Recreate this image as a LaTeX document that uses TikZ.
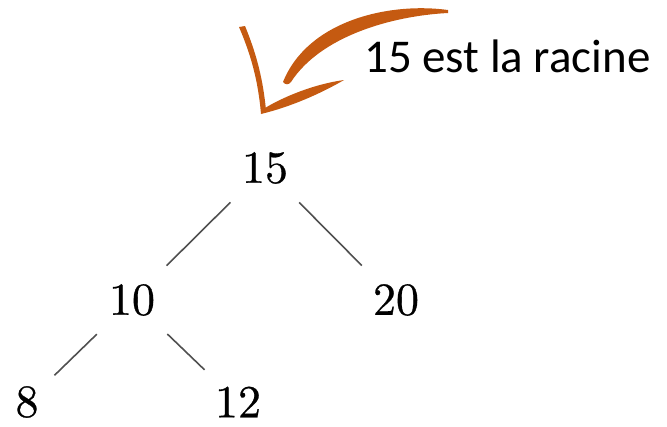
\documentclass[tikz,border=0pt]{standalone}
\usepackage{fontspec}
\newfontfamily\calib{Carlito}
\newfontfamily\keyfont{lmroman10-regular}[Extension=.otf,FakeBold=0.6]
\definecolor{arrowc}{HTML}{C55A11}
\definecolor{edgec}{HTML}{505050}
\begin{document}
\begin{tikzpicture}[x=1pt,y=-1pt,
  key/.style={inner sep=0pt,font=\keyfont\fontsize{46}{50}\selectfont},
  tedge/.style={draw=edgec,line width=1.6pt,shorten <=26pt,shorten >=26pt}]
\useasboundingbox (0,0) rectangle (667,426);
\node[key] (n15) at (265,168) {15};
\node[key] (n10) at (132,300) {10};
\node[key] (n20) at (396,300) {20};
\node[key] (n8) at (27,402) {8};
\node[key] (n12) at (238,402) {12};
\draw[tedge] (n15) -- (n10);
\draw[tedge] (n15) -- (n20);
\draw[tedge,shorten >=22pt] (n10) -- (n8);
\draw[tedge,shorten >=24pt] (n10) -- (n12);
\node[anchor=base west,inner sep=0pt,font=\calib\fontsize{47}{50}\selectfont] (lbl) at (364,72) {15 est la racine};
% curved arrow (brush strokes)
\fill[arrowc] (448,10) .. controls (390,2) and (308,20) .. (283,82)
  .. controls (285,85) and (289,85) .. (291,82)
  .. controls (320,37) and (390,16) .. (448,13) -- cycle;
\fill[arrowc] (239,27) .. controls (251,55) and (258,80) .. (261,114)
  -- (266,110) .. controls (263,80) and (257,55) .. (245,26) -- cycle;
\fill[arrowc] (261,114) .. controls (290,107) and (320,94) .. (344,80)
  .. controls (315,84) and (285,96) .. (265,108) -- cycle;
\end{tikzpicture}
\end{document}
